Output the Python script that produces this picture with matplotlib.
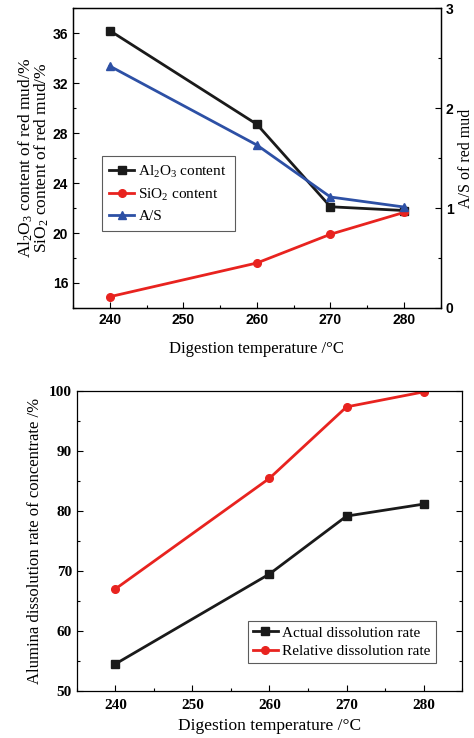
import matplotlib
matplotlib.use("Agg")
import matplotlib.pyplot as plt
from matplotlib.ticker import MultipleLocator

plt.rcParams['font.family'] = 'Liberation Serif'
plt.rcParams['mathtext.fontset'] = 'custom'
plt.rcParams['mathtext.rm'] = 'Liberation Serif'

# top panel data
temp = [240, 260, 270, 280]
al2o3 = [36.2, 28.7, 22.1, 21.8]
sio2 = [14.9, 17.6, 19.9, 21.65]
a_s = [2.42, 1.63, 1.11, 1.01]

# bottom panel data
actual = [54.45, 69.45, 79.1, 81.1]
relative = [66.95, 85.4, 97.3, 99.8]

black = '#1a1a1a'
red = '#e8231f'
blue = '#2d50a5'

fig = plt.figure(figsize=(4.74, 7.38), dpi=100)

def style_ticks(ax, right=False):
    ax.tick_params(which='both', direction='in', right=right, top=False)
    ax.tick_params(which='major', length=4, width=0.8)
    ax.tick_params(which='minor', length=2.5, width=0.8)
    for s in ax.spines.values():
        s.set_linewidth(0.9)

# ---- top chart ----
ax1 = fig.add_axes([0.154, 0.5827, 0.776, 0.4063])
ax1.plot(temp, al2o3, color=black, lw=2, marker='s', ms=5.5, label=r'$\mathregular{Al_2O_3}$ content')
ax1.plot(temp, sio2, color=red, lw=2, marker='o', ms=5.5, label=r'$\mathregular{SiO_2}$ content')
ax2 = ax1.twinx()
ln3, = ax2.plot(temp, a_s, color=blue, lw=2, marker='^', ms=6, label='A/S')

ax1.set_xlim(235, 285)
ax1.set_ylim(14, 38)
ax2.set_ylim(0, 3)
ax1.xaxis.set_major_locator(MultipleLocator(10))
ax1.xaxis.set_minor_locator(MultipleLocator(5))
ax1.yaxis.set_major_locator(MultipleLocator(4))
ax1.yaxis.set_minor_locator(MultipleLocator(2))
ax2.yaxis.set_major_locator(MultipleLocator(1))
ax2.yaxis.set_minor_locator(MultipleLocator(0.5))
style_ticks(ax1)
style_ticks(ax2, right=True)
ax2.tick_params(which='both', left=False)

for lab in ax1.get_xticklabels() + ax1.get_yticklabels() + ax2.get_yticklabels():
    lab.set_fontfamily('Liberation Sans')
    lab.set_fontweight('bold')
    lab.set_fontsize(10)

ax1.set_xlabel('Digestion temperature /°C', fontsize=12, labelpad=10)
ax1.set_ylabel('$\\mathregular{Al_2O_3}$ content of red mud/%\n$\\mathregular{SiO_2}$ content of red mud/%',
               fontsize=12.5, labelpad=1, linespacing=0.85)
ax2.set_ylabel('A/S of red mud', fontsize=11.5, labelpad=3)

h1, l1 = ax1.get_legend_handles_labels()
leg = ax1.legend(h1 + [ln3], l1 + ['A/S'], loc='upper left',
                 bbox_to_anchor=(0.078, 0.507), borderaxespad=0, fontsize=11,
                 frameon=True, fancybox=False, edgecolor='#333333',
                 handlelength=1.6, handletextpad=0.3, borderpad=0.5, labelspacing=0.45)
leg.get_frame().set_linewidth(0.8)

# ---- bottom chart ----
ax3 = fig.add_axes([0.162, 0.0641, 0.813, 0.4065])
ax3.plot(temp, actual, color=black, lw=2, marker='s', ms=5.5, label='Actual dissolution rate')
ax3.plot(temp, relative, color=red, lw=2, marker='o', ms=5.5, label='Relative dissolution rate')
ax3.set_xlim(235, 285)
ax3.set_ylim(50, 100)
ax3.xaxis.set_major_locator(MultipleLocator(10))
ax3.xaxis.set_minor_locator(MultipleLocator(5))
ax3.yaxis.set_major_locator(MultipleLocator(10))
ax3.yaxis.set_minor_locator(MultipleLocator(5))
style_ticks(ax3, right=True)
ax3.tick_params(axis='x', which='major', pad=6)
for lab in ax3.get_xticklabels() + ax3.get_yticklabels():
    lab.set_fontweight('bold')
    lab.set_fontsize(11)
ax3.set_xlabel('Digestion temperature /°C', fontsize=12.5, labelpad=4)
ax3.set_ylabel('Alumina dissolution rate of concentrate /%', fontsize=12, labelpad=4)
leg2 = ax3.legend(loc='lower right', bbox_to_anchor=(0.932, 0.091), borderaxespad=0,
                  fontsize=11, frameon=True, fancybox=False, edgecolor='#333333',
                  handlelength=1.6, handletextpad=0.3, borderpad=0.35, labelspacing=0.3)
leg2.get_frame().set_linewidth(0.8)

fig.savefig('out.png', dpi=100)
